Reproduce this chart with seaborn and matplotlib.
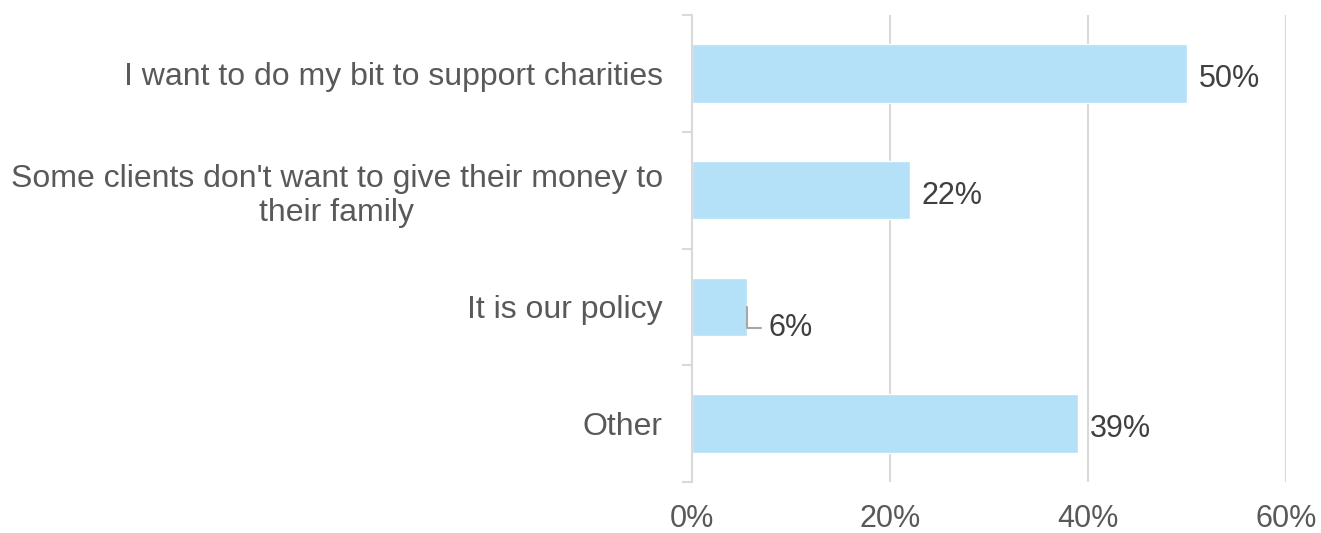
import matplotlib
matplotlib.use("Agg")
import matplotlib.pyplot as plt
import seaborn as sns
import pandas as pd
import numpy as np

categories = ["I want to do my bit to support charities",
              "Some clients don't want to give their money to\ntheir family",
              "It is our policy",
              "Other"]
values = [50.0, 22.0, 5.6, 39.0]
labels = ["50%", "22%", "6%", "39%"]
xticks = [0, 20, 40, 60]
xticklabels = ["0%", "20%", "40%", "60%"]

sns.set_theme(style="white")
plt.rcParams['font.family'] = ['Liberation Sans', 'DejaVu Sans']

df = pd.DataFrame({"cat": categories, "val": values})

fig = plt.figure(figsize=(13.21, 5.33), dpi=100)
ax = fig.add_axes([692/1321, 1-482/533, (1286-692)/1321, (482-15)/533])

sns.barplot(data=df, y="cat", x="val", orient="h", color="#b4e1f8",
            width=0.5, saturation=1, ax=ax, zorder=3)

ax.set_xlim(0, 60)
ax.set_ylim(3.5, -0.5)
ax.set_xlabel("")
ax.set_ylabel("")
ax.set_xticks(xticks)
ax.set_xticklabels(xticklabels, fontsize=22, color="#595959")
ax.set_yticks(range(len(categories)))
ax.set_yticklabels(categories, fontsize=23, color="#595959")
ax.tick_params(axis="y", length=0, pad=21)
ax.tick_params(axis="x", length=0, pad=16)
ax.set_yticks(np.arange(-0.5, len(categories)), minor=True)
ax.tick_params(axis="y", which="minor", length=7, width=1.5, color="#d9d9d9", left=True)

for t in ax.get_yticklabels():
    t.set_linespacing(1.2)
    t.set_multialignment("center")

for s in ["top", "right", "bottom"]:
    ax.spines[s].set_visible(False)
ax.spines["left"].set_color("#d9d9d9")
ax.spines["left"].set_linewidth(1.5)
ax.spines["left"].set_zorder(4)

for x in xticks[1:]:
    ax.axvline(x, color="#d9d9d9", lw=1.5, zorder=1)

for i, (v, lab) in enumerate(zip(values, labels)):
    if v < 10:
        ax.annotate(lab, xy=(v, i), xytext=(v + 2.1, i + 0.18),
                    textcoords="data", fontsize=22, color="#404040",
                    va="center", ha="left",
                    arrowprops=dict(arrowstyle="-", color="#a6a6a6", lw=1.5,
                                    connectionstyle="angle,angleA=0,angleB=90,rad=0",
                                    shrinkA=3, shrinkB=0))
    else:
        ax.text(v + 1.2, i + 0.05, lab, fontsize=22, color="#404040",
                va="center", ha="left")

fig.savefig("out.png", dpi=100)
